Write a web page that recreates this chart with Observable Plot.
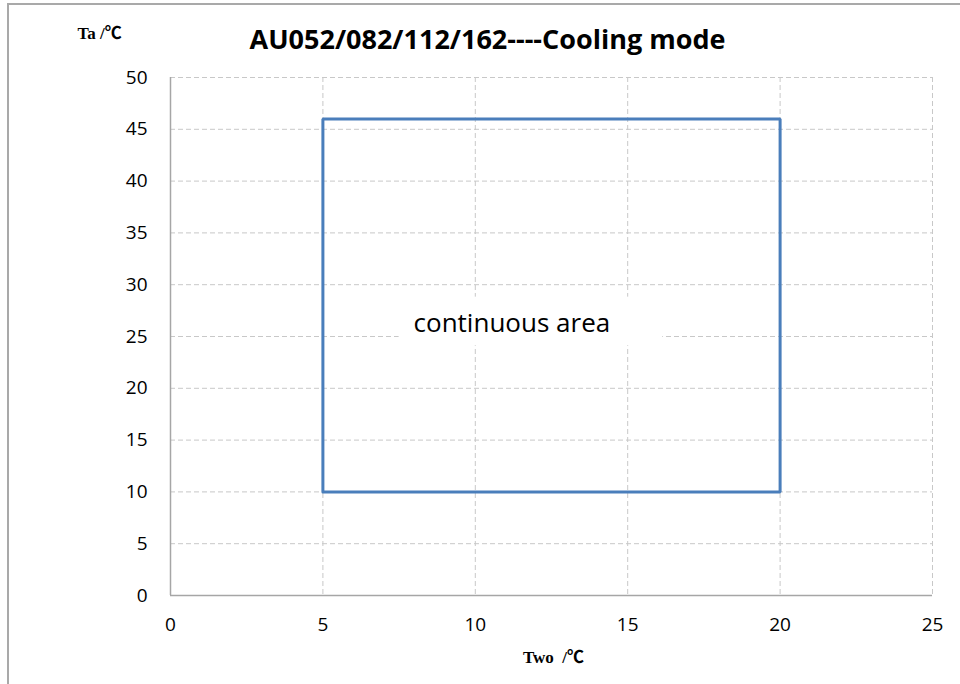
<!DOCTYPE html>
<html>
<head>
<meta charset="utf-8">
<script src="https://cdn.jsdelivr.net/npm/d3@7"></script>
<script src="https://cdn.jsdelivr.net/npm/@observablehq/plot@0.6"></script>
<style>
  html, body { margin: 0; padding: 0; background: #fff; overflow: hidden; }
  #wrap { position: relative; width: 960px; height: 684px; }
  #border { position: absolute; left: 7px; top: 3px; width: 1000px; height: 1000px;
            border-left: 2px solid #a9a9a9; border-top: 2px solid #a9a9a9; box-sizing: border-box; }
  #chart { position: absolute; left: 0; top: 0; }
</style>
</head>
<body>
<div id="wrap"><div id="border"></div><div id="chart"></div></div>
<script>
const title = "AU052/082/112/162----Cooling mode";
const xLabel = "Two  /℃";
const yLabel = "Ta /℃";
const xTicks = [0, 5, 10, 15, 20, 25];
const yTicks = [0, 5, 10, 15, 20, 25, 30, 35, 40, 45, 50];
const twoValues = [5, 5, 20, 20, 5];
const taValues = [10, 46, 46, 10, 10];
const areaLabel = ["continuous area"];
const areaLabelX = [11.2];
const areaLabelY = [26.2];
const areaBox = [{x1: 7.5, x2: 16.15, y1: 24.1, y2: 28.8}];

const boundary = twoValues.map((x, i) => ({x, y: taValues[i]}));
const labels = areaLabel.map((t, i) => ({text: t, x: areaLabelX[i], y: areaLabelY[i]}));

const font = "'Open Sans', Lato, sans-serif";
const serif = "'Liberation Serif', 'Noto Sans CJK SC', 'DejaVu Serif', serif";

const chart = Plot.plot({
  width: 960,
  height: 684,
  marginLeft: 170,
  marginRight: 28,
  marginTop: 77,
  marginBottom: 89,
  style: {fontFamily: font, fontSize: "19px", color: "#000", background: "transparent"},
  x: {domain: [0, 25], ticks: xTicks, label: null},
  y: {domain: [0, 50], ticks: yTicks, label: null},
  marks: [
    Plot.gridX(xTicks.filter(d => d > 0), {stroke: "#c8c8c8", strokeOpacity: 1, strokeDasharray: "5,3"}),
    Plot.gridY(yTicks.filter(d => d > 0), {stroke: "#c8c8c8", strokeOpacity: 1, strokeDasharray: "5,3"}),
    Plot.rect(areaBox, {x1: "x1", x2: "x2", y1: "y1", y2: "y2", fill: "#fff"}),
    Plot.ruleX([0], {stroke: "#a6a6a6", strokeWidth: 1.5}),
    Plot.ruleY([0], {stroke: "#a6a6a6", strokeWidth: 1.5}),
    Plot.axisX({ticks: xTicks, tickSize: 0, tickPadding: 22, fontSize: 19, label: null}),
    Plot.axisY({ticks: yTicks, tickSize: 0, tickPadding: 23, fontSize: 19, label: null}),
    Plot.line(boundary, {x: "x", y: "y", stroke: "#4a7ebb", strokeWidth: 3, strokeLinejoin: "miter"}),
    Plot.text(labels, {x: "x", y: "y", text: "text", fontSize: 26, fill: "#000", fontFamily: font}),
    Plot.text([title], {frameAnchor: "top", lineAnchor: "middle", dx: -64, dy: -37, fontSize: 27, fontWeight: "bold", fill: "#000", fontFamily: font}),
    Plot.text([yLabel], {frameAnchor: "top-left", lineAnchor: "middle", dx: -71, dy: -44, fontSize: 17, fontWeight: "bold", fill: "#000", fontFamily: serif, textAnchor: "middle"}),
    Plot.text([xLabel], {frameAnchor: "bottom", lineAnchor: "middle", dx: 2, dy: 62, fontSize: 17, fontWeight: "bold", fill: "#000", fontFamily: serif})
  ]
});
document.getElementById("chart").appendChild(chart);
</script>
</body>
</html>
